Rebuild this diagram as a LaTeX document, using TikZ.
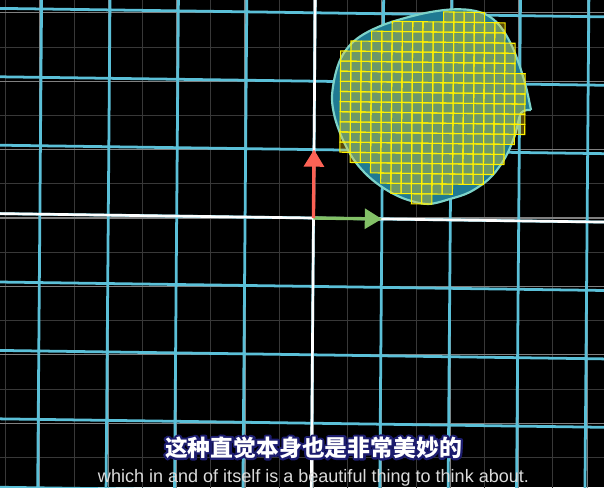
\documentclass[tikz,border=0pt]{standalone}
\usepackage{fontspec}
\setmainfont{Liberation Sans}
\newfontfamily\cjk{Noto Sans CJK SC}
\usetikzlibrary{arrows.meta}
\definecolor{planeblue}{HTML}{5BC0D8}
\definecolor{blobteal}{HTML}{1F7A92}
\definecolor{blobedge}{HTML}{7DD3C8}
\definecolor{cellfill}{HTML}{FFD01A}
\definecolor{ihatgreen}{HTML}{83C167}
\definecolor{jhatred}{HTML}{FC6255}
\definecolor{subnavy}{HTML}{1C1C6E}
% stroked text for the subtitle halo
\newcommand{\halotext}[1]{\special{pdf:literal 2 Tr 1 j 1.8 w}#1\special{pdf:literal 0 Tr 0 j 0.4 w}}
\begin{document}
\begin{tikzpicture}[
        halfline/.style={draw=white!22!black, line width=0.4pt},
        unitline/.style={draw=white!50!black, line width=0.5pt},
        planeline/.style={draw=planeblue, line width=1.15pt},
        axisline/.style={draw=white, line width=1.1pt},
        cell/.style={
            fill=cellfill,
            fill opacity=0.35,
            draw=yellow,
            draw opacity=1,
            line width=0.45pt
        },
        basis/.style={
            line width=1.4pt,
            -{Triangle[length=0.25cm, width=0.29cm]}
        },
        zhtext/.style={font=\cjk\bfseries\fontsize{9.5}{11}\selectfont, inner sep=0pt},
        entext/.style={font=\fontsize{7.5}{9}\selectfont, text=white!86!black, inner sep=0pt}
    ]
    % frame
    \fill[black] (-4.583,-3.933) rectangle (4.247,3.187);
    \clip (-4.583,-3.933) rectangle (4.247,3.187);
    % background plane
    \draw[halfline] (-5,-4.5) grid[step=0.5] (5,3.5);
    \draw[unitline] (-5,-4) grid[step=1] (5,4);
    % transformed plane
    \begin{scope}[cm={1,-0.014,0.008,1,(0,0)}]
        \draw[planeline] (-6,-5) grid[step=1] (6,5);
        \draw[axisline] (-6,0) -- (6,0) (0,-5) -- (0,5);
        \coordinate (O) at (0,0);
        \coordinate (ihat) at (1,0);
        \coordinate (jhat) at (0,1);
    \end{scope}
    % the region
    \fill[blobteal] plot[smooth, tension=0.55] coordinates {
        (3.180,1.579) (3.034,1.535) (2.946,1.213) (2.800,0.877) (2.580,0.585)
        (2.288,0.380) (1.996,0.278) (1.674,0.205) (1.338,0.278) (1.045,0.424)
        (0.797,0.614) (0.592,0.848) (0.431,1.140) (0.314,1.462) (0.270,1.754)
        (0.314,2.076) (0.402,2.339) (0.548,2.544) (0.738,2.690) (1.016,2.822)
        (1.338,2.924) (1.674,3.004) (1.996,3.048) (2.288,3.041) (2.537,2.968)
        (2.727,2.807) (2.887,2.544) (3.004,2.251) (3.107,1.915) (3.180,1.579)};
    \draw[blobedge, line width=0.9pt, line join=miter] plot[smooth, tension=0.55] coordinates {
        (3.180,1.579) (3.034,1.535) (2.946,1.213) (2.800,0.877) (2.580,0.585)
        (2.288,0.380) (1.996,0.278) (1.674,0.205) (1.338,0.278) (1.045,0.424)
        (0.797,0.614) (0.592,0.848) (0.431,1.140) (0.314,1.462) (0.270,1.754)
        (0.314,2.076) (0.402,2.339) (0.548,2.544) (0.738,2.690) (1.016,2.822)
        (1.338,2.924) (1.674,3.004) (1.996,3.048) (2.288,3.041) (2.537,2.968)
        (2.727,2.807) (2.887,2.544) (3.004,2.251) (3.107,1.915) (3.180,1.579)};
    % small squares covering the region
    \begin{scope}[cm={1,-0.014,0.008,1,(0,0)}]
        \foreach \r/\a/\b in {0/10/13, 1/5/15, 2/3/15, 3/1/16, 4/0/16, 5/0/16,
                6/0/17, 7/0/17, 8/0/17, 9/0/17, 10/0/17, 11/0/17, 12/0/16,
                13/0/15, 14/1/15, 15/3/14, 16/4/13, 17/5/10, 18/7/8} {
            \foreach \c in {\a,...,\b} {
                \path[cell] ({0.378+0.15*\c},{3.0396-0.148*\r}) rectangle ++(0.15,-0.148);
            }
        }
    \end{scope}
    % basis vectors
    \draw[basis, ihatgreen] (O) -- (ihat);
    \draw[basis, jhatred] (O) -- (jhat);
    % subtitles
    \node[zhtext, text=subnavy] (zhedge) at (0,-3.355) {\halotext{这种直觉本身也是非常美妙的}};
    \node[zhtext, text=white] (zh) at (zhedge.center) {这种直觉本身也是非常美妙的};
    \node[entext, anchor=base] (en) at (0,-3.86) {which in and of itself is a beautiful thing to think about.};
\end{tikzpicture}
\end{document}
